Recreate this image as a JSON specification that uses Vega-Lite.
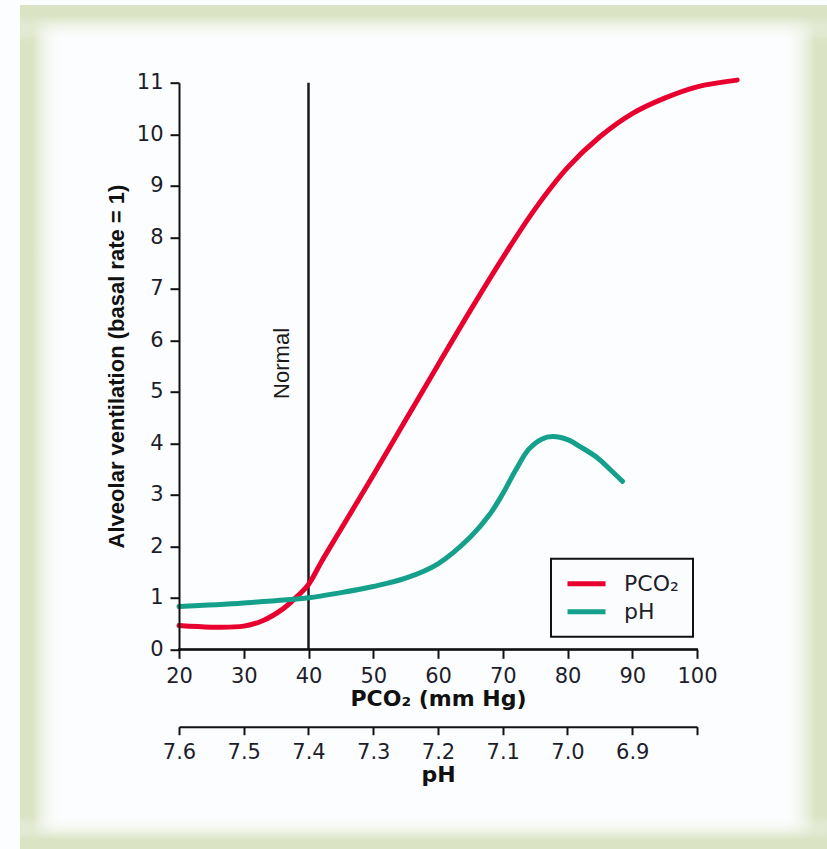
{
  "$schema": "https://vega.github.io/schema/vega-lite/v6.json",
  "width": 518,
  "height": 566.6,
  "autosize": "none",
  "padding": {"left": 179, "top": 82.7, "right": 130, "bottom": 199.7},
  "background": "#fcfdfe",
  "config": {
    "view": {"stroke": null},
    "axis": {
      "zindex": 1,
      "grid": false,
      "domain": true,
      "domainColor": "#111111",
      "domainWidth": 2,
      "tickColor": "#111111",
      "tickWidth": 2,
      "tickSize": 9,
      "labelFlush": false,
      "labelOverlap": false,
      "labelFont": "DejaVu Sans",
      "labelFontSize": 21,
      "labelColor": "#1d1d2b",
      "labelPadding": 7,
      "titleFont": "DejaVu Sans",
      "titleFontSize": 22,
      "titleFontWeight": "bold",
      "titleColor": "#111111"
    },
    "legend": {
      "orient": "none",
      "legendX": 372,
      "legendY": 476,
      "strokeColor": "#111111",
      "strokeWidth": 2,
      "fillColor": "#fbfcfe",
      "padding": 14,
      "clipHeight": 22,
      "symbolType": "stroke",
      "symbolStrokeWidth": 5,
      "symbolSize": 1444,
      "labelFont": "DejaVu Sans",
      "labelFontSize": 22,
      "labelColor": "#1d1d2b",
      "labelOffset": 16,
      "rowPadding": 6
    }
  },
  "datasets": {
    "pco2curve": [
      {"pco2": 20, "vent": 0.46, "series": "PCO₂"},
      {"pco2": 25, "vent": 0.43, "series": "PCO₂"},
      {"pco2": 30, "vent": 0.45, "series": "PCO₂"},
      {"pco2": 33, "vent": 0.56, "series": "PCO₂"},
      {"pco2": 36, "vent": 0.78, "series": "PCO₂"},
      {"pco2": 38, "vent": 1.0, "series": "PCO₂"},
      {"pco2": 40, "vent": 1.26, "series": "PCO₂"},
      {"pco2": 42, "vent": 1.7, "series": "PCO₂"},
      {"pco2": 45, "vent": 2.33, "series": "PCO₂"},
      {"pco2": 50, "vent": 3.38, "series": "PCO₂"},
      {"pco2": 55, "vent": 4.45, "series": "PCO₂"},
      {"pco2": 60, "vent": 5.52, "series": "PCO₂"},
      {"pco2": 65, "vent": 6.58, "series": "PCO₂"},
      {"pco2": 70, "vent": 7.6, "series": "PCO₂"},
      {"pco2": 75, "vent": 8.55, "series": "PCO₂"},
      {"pco2": 80, "vent": 9.35, "series": "PCO₂"},
      {"pco2": 85, "vent": 9.95, "series": "PCO₂"},
      {"pco2": 90, "vent": 10.4, "series": "PCO₂"},
      {"pco2": 95, "vent": 10.7, "series": "PCO₂"},
      {"pco2": 100, "vent": 10.92, "series": "PCO₂"},
      {"pco2": 106.2, "vent": 11.05, "series": "PCO₂"}
    ],
    "phcurve": [
      {"ph": 7.6, "vent": 0.83, "series": "pH"},
      {"ph": 7.5, "vent": 0.9, "series": "pH"},
      {"ph": 7.4, "vent": 1.0, "series": "pH"},
      {"ph": 7.35, "vent": 1.1, "series": "pH"},
      {"ph": 7.3, "vent": 1.22, "series": "pH"},
      {"ph": 7.25, "vent": 1.38, "series": "pH"},
      {"ph": 7.2, "vent": 1.66, "series": "pH"},
      {"ph": 7.15, "vent": 2.18, "series": "pH"},
      {"ph": 7.12, "vent": 2.62, "series": "pH"},
      {"ph": 7.1, "vent": 3.02, "series": "pH"},
      {"ph": 7.08, "vent": 3.48, "series": "pH"},
      {"ph": 7.06, "vent": 3.88, "series": "pH"},
      {"ph": 7.04, "vent": 4.08, "series": "pH"},
      {"ph": 7.023, "vent": 4.13, "series": "pH"},
      {"ph": 7.0, "vent": 4.07, "series": "pH"},
      {"ph": 6.98, "vent": 3.93, "series": "pH"},
      {"ph": 6.954, "vent": 3.72, "series": "pH"},
      {"ph": 6.935, "vent": 3.5, "series": "pH"},
      {"ph": 6.915, "vent": 3.26, "series": "pH"}
    ]
  },
  "layer": [
    {
      "layer": [
        {
          "data": {"values": [{}]},
          "mark": {
            "type": "rect", "clip": false,
            "fill": {"gradient": "linear", "x1": 0, "y1": 0, "x2": 1, "y2": 0,
              "stops": [
                {"offset": 0, "color": "rgba(218,227,196,1)"},
                {"offset": 0.3, "color": "rgba(218,227,196,1)"},
                {"offset": 1, "color": "rgba(252,253,254,0)"}
              ]}
          },
          "encoding": {
            "x": {"datum": -4.556, "type": "quantitative", "scale": {"domain": [20, 100], "nice": false, "zero": false}},
            "x2": {"datum": 1.93},
            "y": {"datum": 12.508, "type": "quantitative", "scale": {"domain": [0, 11], "nice": false}},
            "y2": {"datum": -4}
          }
        },
        {
          "data": {"values": [{}]},
          "mark": {
            "type": "rect", "clip": false,
            "fill": {"gradient": "linear", "x1": 0, "y1": 0, "x2": 1, "y2": 0,
              "stops": [
                {"offset": 0, "color": "rgba(252,253,254,0)"},
                {"offset": 0.65, "color": "rgba(218,227,196,1)"},
                {"offset": 1, "color": "rgba(218,227,196,1)"}
              ]}
          },
          "encoding": {
            "x": {"datum": 113.13, "type": "quantitative"},
            "x2": {"datum": 121},
            "y": {"datum": 12.508, "type": "quantitative"},
            "y2": {"datum": -4}
          }
        },
        {
          "data": {"values": [{}]},
          "mark": {
            "type": "rect", "clip": false,
            "fill": {"gradient": "linear", "x1": 0, "y1": 0, "x2": 0, "y2": 1,
              "stops": [
                {"offset": 0, "color": "rgba(218,227,196,1)"},
                {"offset": 0.3, "color": "rgba(218,227,196,1)"},
                {"offset": 1, "color": "rgba(252,253,254,0)"}
              ]}
          },
          "encoding": {
            "x": {"datum": -4.556, "type": "quantitative"},
            "x2": {"datum": 121},
            "y": {"datum": 12.508, "type": "quantitative"},
            "y2": {"datum": 11.79}
          }
        },
        {
          "data": {"values": [{}]},
          "mark": {
            "type": "rect", "clip": false,
            "fill": {"gradient": "linear", "x1": 0, "y1": 0, "x2": 0, "y2": 1,
              "stops": [
                {"offset": 0, "color": "rgba(252,253,254,0)"},
                {"offset": 0.6, "color": "rgba(218,227,196,1)"},
                {"offset": 1, "color": "rgba(218,227,196,1)"}
              ]}
          },
          "encoding": {
            "x": {"datum": -4.556, "type": "quantitative"},
            "x2": {"datum": 121},
            "y": {"datum": -3.236, "type": "quantitative"},
            "y2": {"datum": -4}
          }
        },
        {
          "data": {"values": [{}]},
          "mark": {"type": "rule", "clip": false, "color": "#111111", "strokeWidth": 2, "strokeCap": "square"},
          "encoding": {
            "x": {"datum": 20, "type": "quantitative"},
            "x2": {"datum": 100},
            "y": {"datum": 0, "type": "quantitative"}
          }
        },
        {
          "data": {"values": [{}]},
          "mark": {"type": "rule", "clip": false, "color": "#1a1a1a", "strokeWidth": 2.5},
          "encoding": {
            "x": {"datum": 40, "type": "quantitative"},
            "y": {"datum": 0, "type": "quantitative"},
            "y2": {"datum": 11}
          }
        },
        {
          "data": {"values": [{}]},
          "mark": {"type": "text", "clip": false, "angle": 270, "align": "center", "baseline": "middle", "font": "Liberation Sans", "fontSize": 22, "color": "#1a1a1a"},
          "encoding": {
            "x": {"datum": 35.9, "type": "quantitative"},
            "y": {"datum": 5.55, "type": "quantitative"},
            "text": {"value": "Normal"}
          }
        },
        {
          "data": {"name": "pco2curve"},
          "mark": {"type": "line", "clip": false, "interpolate": "catmull-rom", "strokeWidth": 5, "strokeCap": "round"},
          "encoding": {
            "x": {
              "field": "pco2", "type": "quantitative",
              "scale": {"domain": [20, 100], "nice": false, "zero": false},
              "axis": {"orient": "bottom", "zindex": 1, "domain": true, "values": [20, 30, 40, 50, 60, 70, 80, 90, 100], "title": "PCO₂ (mm Hg)", "titlePadding": 2}
            },
            "y": {
              "field": "vent", "type": "quantitative",
              "scale": {"domain": [0, 11], "nice": false},
              "axis": {"zindex": 1, "values": [0, 1, 2, 3, 4, 5, 6, 7, 8, 9, 10, 11], "title": "Alveolar ventilation (basal rate = 1)", "titleFont": "Liberation Sans", "titleFontSize": 22, "titlePadding": 8}
            },
            "color": {
              "field": "series", "type": "nominal",
              "scale": {"domain": ["PCO₂", "pH"], "range": ["#e8002e", "#14a08a"]},
              "legend": {"title": null}
            }
          }
        }
      ]
    },
    {
      "data": {"name": "phcurve"},
      "mark": {"type": "line", "clip": false, "interpolate": "catmull-rom", "strokeWidth": 5, "strokeCap": "round"},
      "encoding": {
        "x": {
          "field": "ph", "type": "quantitative",
          "scale": {"domain": [7.6, 6.8], "nice": false, "zero": false},
          "axis": {"orient": "bottom", "zindex": 1, "offset": 77.4, "values": [7.6, 7.5, 7.4, 7.3, 7.2, 7.1, 7.0, 6.9, 6.8], "labelExpr": "datum.value < 6.85 ? '' : format(datum.value, '.1f')", "title": "pH", "titlePadding": 2, "tickSize": 8}
        },
        "y": {
          "field": "vent", "type": "quantitative",
          "scale": {"domain": [0, 11], "nice": false},
          "axis": {"zindex": 1, "values": [0, 1, 2, 3, 4, 5, 6, 7, 8, 9, 10, 11], "title": "Alveolar ventilation (basal rate = 1)", "titleFont": "Liberation Sans", "titleFontSize": 22, "titlePadding": 8}
        },
        "color": {
          "field": "series", "type": "nominal",
          "scale": {"domain": ["PCO₂", "pH"], "range": ["#e8002e", "#14a08a"]},
          "legend": {"title": null}
        }
      }
    }
  ],
  "resolve": {"scale": {"x": "independent"}}
}
